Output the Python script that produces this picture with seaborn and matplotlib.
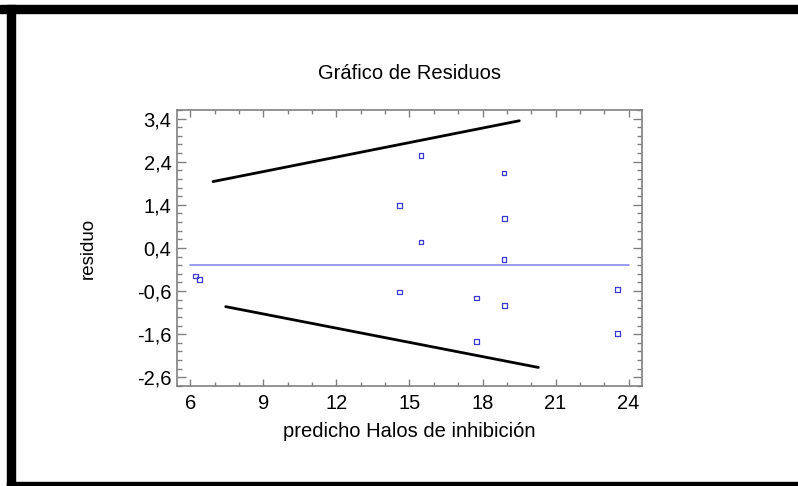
import matplotlib
matplotlib.use("Agg")
import matplotlib.pyplot as plt
import seaborn as sns
import pandas as pd
from matplotlib.ticker import MultipleLocator, FuncFormatter
from matplotlib.patches import Rectangle

sns.set_style("white")
plt.rcParams['font.family'] = ['Liberation Sans', 'DejaVu Sans']
plt.rcParams['text.color'] = 'black'
plt.rcParams['axes.labelcolor'] = 'black'

# Data
predicted = [6.22, 6.36, 14.60, 14.60, 15.47, 15.47, 17.75, 17.75,
             18.88, 18.90, 18.88, 18.90, 23.55, 23.55]
residuals = [-0.25, -0.34, 1.38, -0.62, 2.54, 0.54, -0.76, -1.76,
             2.14, 1.09, 0.14, -0.93, -0.57, -1.58]
upper_x = [6.93, 19.51]
upper_y = [1.94, 3.35]
lower_x = [7.45, 20.29]
lower_y = [-0.96, -2.37]
zero_x = [6, 24]
zero_y = [0, 0]

title = "Gráfico de Residuos"
xlabel = "predicho Halos de inhibición"
ylabel = "residuo"

fig = plt.figure(figsize=(7.98, 4.86), dpi=100)
ax = fig.add_axes([0.2218, 0.2058, 0.5827, 0.5679])

df = pd.DataFrame({"x": predicted, "y": residuals})
sns.lineplot(x=zero_x, y=zero_y, ax=ax, color="#8c8cf0", linewidth=1.2)
sns.lineplot(x=upper_x, y=upper_y, ax=ax, color="black", linewidth=2)
sns.lineplot(x=lower_x, y=lower_y, ax=ax, color="black", linewidth=2)
sns.scatterplot(data=df, x="x", y="y", ax=ax, marker="s", s=12,
                facecolor="none", edgecolor="#3a3ad0", linewidth=0.9)

ax.set_xlim(5.45, 24.55)
ax.set_ylim(-2.8, 3.6)
ax.xaxis.set_major_locator(MultipleLocator(3))
ax.xaxis.set_minor_locator(MultipleLocator(1))
ax.set_yticks([-2.6, -1.6, -0.6, 0.4, 1.4, 2.4, 3.4])
ax.yaxis.set_minor_locator(MultipleLocator(0.2))
ax.yaxis.set_major_formatter(FuncFormatter(lambda v, p: f"{v:.1f}".replace(".", ",")))

ax.tick_params(axis="both", which="both", direction="in", top=True, right=True,
               bottom=True, left=True, color="#808080", labelsize=14.5, labelcolor="black")
ax.tick_params(axis="x", which="major", length=5, width=1, pad=6)
ax.tick_params(axis="x", which="minor", length=3, width=1)
ax.tick_params(axis="y", which="major", length=6.5, width=1, pad=4)
ax.tick_params(axis="y", which="minor", length=3.5, width=1)
for s in ax.spines.values():
    s.set_color("#808080")
    s.set_linewidth(1.2)

ax.set_xlabel(xlabel, fontsize=14.5, labelpad=6, color="black")
ax.set_ylabel(ylabel, fontsize=13.5, labelpad=29, color="black")
ax.set_title(title, fontsize=14.5, pad=22, color="black")

# frame border
fig.patches.append(Rectangle((0, 1 - 13/486), 1, 8/486, transform=fig.transFigure,
                             color="black", zorder=0))
fig.patches.append(Rectangle((7/798, 0), 8/798, 1 - 5/486, transform=fig.transFigure,
                             color="black", zorder=0))
fig.patches.append(Rectangle((7/798, 0), 1, 4/486, transform=fig.transFigure,
                             color="black", zorder=0))

fig.savefig("out.png", dpi=100)
